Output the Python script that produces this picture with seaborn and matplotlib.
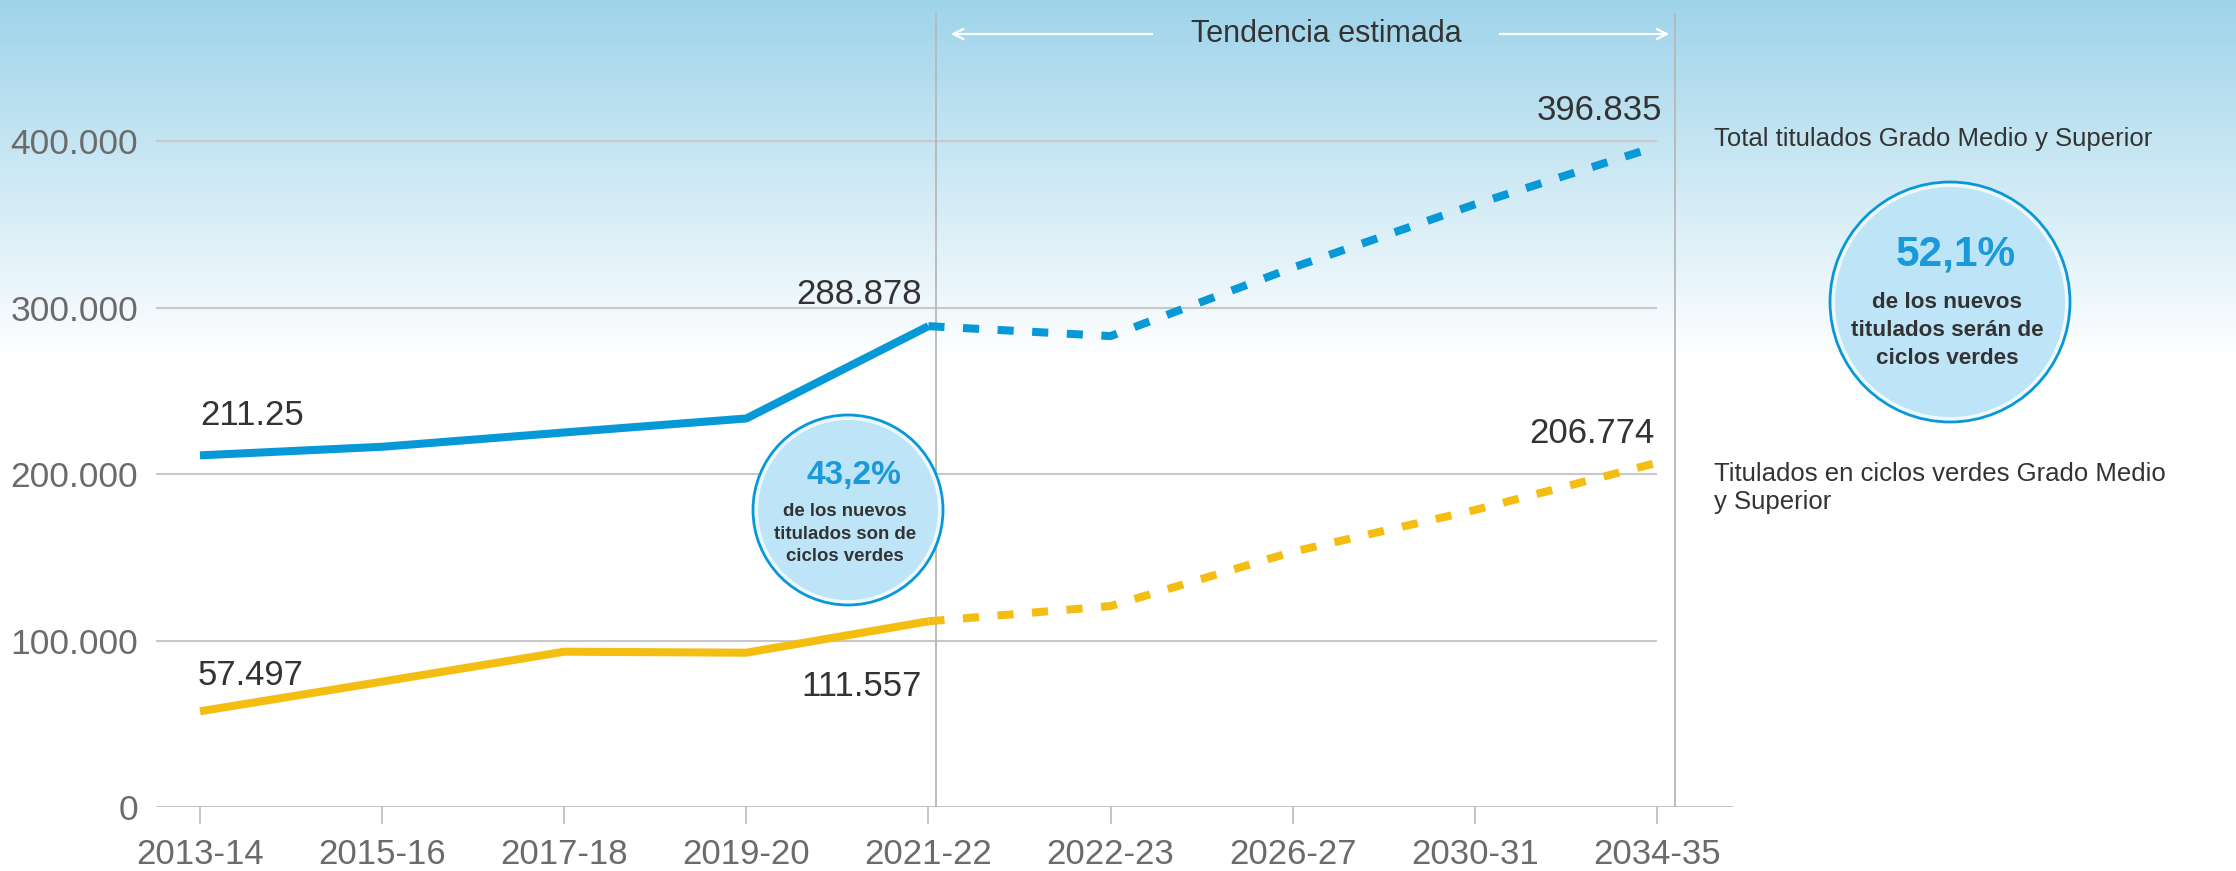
import numpy as np
import pandas as pd
import seaborn as sns
import matplotlib
matplotlib.use("Agg")
from matplotlib import pyplot as plt
from matplotlib.patches import Circle
from matplotlib.ticker import FuncFormatter

# Datos
periodos = ["2013-14", "2015-16", "2017-18", "2019-20", "2021-22",
            "2022-23", "2026-27", "2030-31", "2034-35"]
total_titulados = [211250, 216400, 225000, 233400, 288878,
                   282900, 324000, 362000, 396835]
ciclos_verdes = [57497, 75300, 93300, 92700, 111557,
                 120700, 153300, 178400, 206774]
ultimo_real = 4  # 2021-22: a partir de aqui, tendencia estimada

etiquetas_total = {0: "211.25", 4: "288.878", 8: "396.835"}
etiquetas_verdes = {0: "57.497", 4: "111.557", 8: "206.774"}

AZUL = "#0798d8"
AMARILLO = "#f4bd12"
TEXTO = "#333333"
GRIS = "#6b6b6b"

df = pd.DataFrame({"pos": np.arange(len(periodos)), "periodo": periodos,
                   "total": total_titulados, "verdes": ciclos_verdes})
df_real = df[df["pos"] <= ultimo_real]
df_est = df[df["pos"] >= ultimo_real]

sns.set_theme(style="white")
plt.rcParams["font.family"] = ["Liberation Sans", "DejaVu Sans"]

W, H = 2236, 871
fig = plt.figure(figsize=(W / 100, H / 100), dpi=100)

# Fondo degradado azul -> blanco
bg = fig.add_axes([0, 0, 1, 1], zorder=0)
t = np.clip(np.arange(H) / 360.0, 0, 1)[:, None]
top = np.array([0.62, 0.83, 0.92])
grad = top * (1 - t) + np.ones(3) * t
bg.imshow(grad[:, None, :], extent=[0, W, H, 0], aspect="auto")
bg.set_xlim(0, W)
bg.set_ylim(H, 0)
bg.axis("off")

# Ejes principales
x_left, x_right = -0.24, 8.42
y_top = 477000
ax = fig.add_axes([156.3 / W, 64 / H, 1577 / W, 794 / H], zorder=1)
ax.set_facecolor("none")
ax.set_xlim(x_left, x_right)
ax.set_ylim(0, y_top)
for s in ax.spines.values():
    s.set_visible(False)

yticks = [0, 100000, 200000, 300000, 400000]
ax.hlines(yticks[1:], x_left, 8, color="#c8c8c8", lw=1.5, zorder=1)
ax.hlines(0, x_left, x_right, color="#bdbdbd", lw=2, zorder=1)
ax.vlines([ultimo_real + 0.04, 8.1], 0, y_top, color="#b8b8b8", lw=1.3, zorder=1)

lw = 5.8
guion = (0, (2.0, 2.3))
sns.lineplot(data=df_real, x="pos", y="total", color=AZUL, lw=lw, ax=ax,
             solid_capstyle="butt", zorder=3)
sns.lineplot(data=df_est, x="pos", y="total", color=AZUL, lw=lw, ax=ax,
             linestyle=guion, zorder=3)
sns.lineplot(data=df_real, x="pos", y="verdes", color=AMARILLO, lw=lw, ax=ax,
             solid_capstyle="butt", zorder=3)
sns.lineplot(data=df_est, x="pos", y="verdes", color=AMARILLO, lw=lw, ax=ax,
             linestyle=guion, zorder=3)

ax.set_xticks(df["pos"])
ax.set_xticklabels(periodos)
ax.set_yticks(yticks)
ax.yaxis.set_major_formatter(FuncFormatter(lambda v, p: f"{int(v):,}".replace(",", ".")))
ax.tick_params(axis="x", length=12, width=1.2, color="#bbbbbb", pad=10,
               labelsize=25, labelcolor=GRIS, bottom=True)
ax.tick_params(axis="y", length=0, pad=13, labelsize=25.5, labelcolor=GRIS, left=True)
ax.set_xlabel("")
ax.set_ylabel("")

# Etiquetas de valores
off_total = {0: (0, 21.6, "left", "baseline"), 4: (-5, 16, "right", "baseline"),
             8: (4, 19, "right", "baseline")}
off_verdes = {0: (-1.4, 18.7, "left", "baseline"), 4: (-5, -35, "right", "top"),
              8: (-2, 14, "right", "baseline")}
for i, txt in etiquetas_total.items():
    dx, dy, ha, va = off_total[i]
    ax.annotate(txt, (i, total_titulados[i]), xytext=(dx, dy), textcoords="offset points",
                ha=ha, va=va, fontsize=25, color=TEXTO, zorder=5)
for i, txt in etiquetas_verdes.items():
    dx, dy, ha, va = off_verdes[i]
    ax.annotate(txt, (i, ciclos_verdes[i]), xytext=(dx, dy), textcoords="offset points",
                ha=ha, va=va, fontsize=25, color=TEXTO, zorder=5)

# Capa superior en coordenadas de pixel: circulos, leyenda, titulo
ov = fig.add_axes([0, 0, 1, 1], zorder=2)
ov.set_facecolor("none")
ov.set_xlim(0, W)
ov.set_ylim(H, 0)
ov.axis("off")

ov.text(1326, 34, "Tendencia estimada", fontsize=22, color=TEXTO, ha="center", va="center")
ov.annotate("", xy=(948, 34), xytext=(1155, 34),
            arrowprops=dict(arrowstyle="->", color="white", lw=1.6, mutation_scale=18))
ov.annotate("", xy=(1672, 34), xytext=(1497, 34),
            arrowprops=dict(arrowstyle="->", color="white", lw=1.6, mutation_scale=18))

ov.text(1714, 146, "Total titulados Grado Medio y Superior", fontsize=18.5,
        color=TEXTO, ha="left", va="baseline")
ov.text(1714, 462, "Titulados en ciclos verdes Grado Medio\ny Superior", fontsize=18.5,
        color=TEXTO, ha="left", va="top", linespacing=1.2)


def burbuja(cx, cy, r, pct, lineas, fs_pct, fs_txt, dy_pct, dy_lin):
    ov.add_patch(Circle((cx, cy), r, facecolor="#eef8fd", edgecolor=AZUL, lw=2))
    ov.add_patch(Circle((cx, cy), r - 5, facecolor="#bde5f7", edgecolor="none"))
    ov.text(cx + 6, cy + dy_pct, pct, fontsize=fs_pct, fontweight="bold",
            color="#1a9ad8", ha="center", va="center")
    for k, linea in enumerate(lineas):
        ov.text(cx - 3, cy + dy_lin[k], linea, fontsize=fs_txt, fontweight="bold",
                color=TEXTO, ha="center", va="center")


burbuja(848, 510, 95, "43,2%", ["de los nuevos", "titulados son de", "ciclos verdes"],
        24, 13.4, -35, [1, 24, 46])
burbuja(1950, 302, 120, "52,1%", ["de los nuevos", "titulados serán de", "ciclos verdes"],
        30.5, 16.2, -48, [0, 28, 56])

fig.savefig("out.png", dpi=100)
